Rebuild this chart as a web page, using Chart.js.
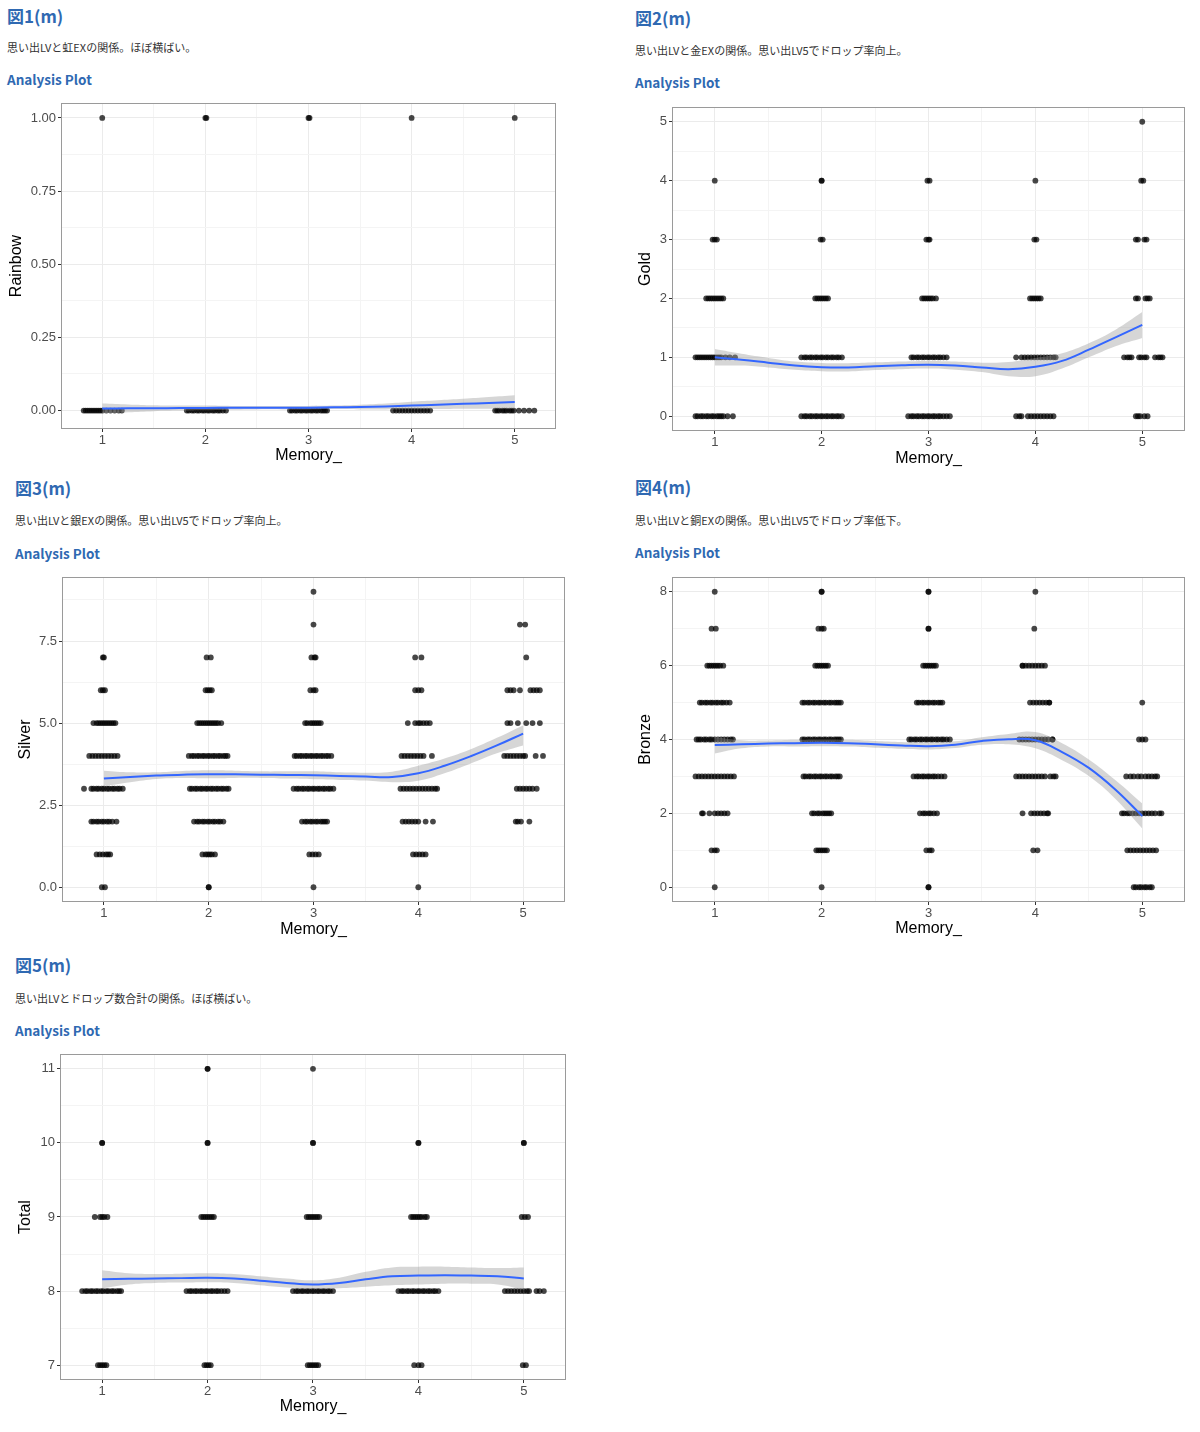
<!DOCTYPE html>
<html><head><meta charset="utf-8">
<script src="https://cdn.jsdelivr.net/npm/chart.js@4/dist/chart.umd.min.js"></script>
<style>
html,body{margin:0;padding:0;background:#fff;}
body{width:1200px;height:1432px;position:relative;overflow:hidden;font-family:"Noto Sans CJK JP","Noto Sans",sans-serif;}
.t{position:absolute;white-space:nowrap;}
.h1{font-size:17px;line-height:20px;font-weight:700;color:#2f69b2;}
.sub{font-size:11px;line-height:14px;color:#333;}
.ap{font-size:13.5px;line-height:16px;font-weight:700;color:#2f69b2;}
canvas{position:absolute;}
</style></head><body>
<div class="t h1" style="left:7px;top:6px">図1(m)</div>
<div class="t sub" style="left:7px;top:40px">思い出LVと虹EXの関係。ほぼ横ばい。</div>
<div class="t ap" style="left:7px;top:71px">Analysis Plot</div>
<div class="t h1" style="left:635px;top:8px">図2(m)</div>
<div class="t sub" style="left:635px;top:43px">思い出LVと金EXの関係。思い出LV5でドロップ率向上。</div>
<div class="t ap" style="left:635px;top:74px">Analysis Plot</div>
<div class="t h1" style="left:15px;top:478px">図3(m)</div>
<div class="t sub" style="left:15px;top:513px">思い出LVと銀EXの関係。思い出LV5でドロップ率向上。</div>
<div class="t ap" style="left:15px;top:545px">Analysis Plot</div>
<div class="t h1" style="left:635px;top:477px">図4(m)</div>
<div class="t sub" style="left:635px;top:513px">思い出LVと銅EXの関係。思い出LV5でドロップ率低下。</div>
<div class="t ap" style="left:635px;top:544px">Analysis Plot</div>
<div class="t h1" style="left:15px;top:955px">図5(m)</div>
<div class="t sub" style="left:15px;top:991px">思い出LVとドロップ数合計の関係。ほぼ横ばい。</div>
<div class="t ap" style="left:15px;top:1022px">Analysis Plot</div>
<canvas id="c1"></canvas><canvas id="c2"></canvas><canvas id="c3"></canvas><canvas id="c4"></canvas><canvas id="c5"></canvas>
<script>
// ---------- data ----------
const memoryLevels = [1,2,3,4,5];
const memoryTickLabels = ['1','2','3','4','5'];
const xAxisTitle = 'Memory_';
// x positions of the smoothing curve samples
const smoothX = [1,1.25,1.5,1.75,2,2.25,2.5,2.75,3,3.25,3.5,3.75,4,4.25,4.5,4.75,5];

// points: [memory level, value, horizontal jitter offsets in 1/100 units]
const rainbowPoints = [
 [1,0,[-18,-16,-14,-12,-10,-8,-6,-4,-2,0,4,8,12,16,19]],
 [2,0,[-18,-16,-13,-11,-8,-6,-3,-1,2,4,7,9,12,14,17,20]],
 [3,0,[-18,-16,-13,-11,-8,-6,-3,-1,2,4,7,9,12,14,16,18]],
 [4,0,[-18,-15,-12,-9,-6,-3,0,3,6,9,12,15,18]],
 [5,0,[-19,-17,-15,-12,-10,-8,-5,-3,-1,4,9,14,19]],
 [1,1,[0]],[2,1,[0,1]],[3,1,[0,1]],[4,1,[0]],[5,1,[0]]
];
const rainbowFit   = [.007,.0075,.008,.0085,.009,.0095,.010,.010,.010,.011,.012,.014,.017,.020,.023,.026,.029];
const rainbowUpper = [.024,.021,.018,.017,.017,.016,.016,.016,.016,.017,.020,.024,.030,.035,.040,.046,.052];
const rainbowLower = [-.010,-.006,-.002,0,.001,.003,.004,.004,.004,.005,.004,.004,.005,.005,.006,.006,.006];
const rainbowTicks = [0,0.25,0.5,0.75,1];
const rainbowTickLabels = ['0.00','0.25','0.50','0.75','1.00'];

const goldPoints = [
 [5,5,[0]],
 [1,4,[0]],[2,4,[0,0]],[3,4,[-1,1]],[4,4,[0]],[5,4,[-1,1]],
 [1,3,[-2,0,2]],[2,3,[-1,1]],[3,3,[-2,0,1]],[4,3,[-1,1]],[5,3,[-6,-4,2,4]],
 [1,2,[-8,-6,-4,-2,0,2,4,6,8]],[2,2,[-6,-4,-2,0,2,4,6]],[3,2,[-6,-4,-2,0,2,4,7]],[4,2,[-5,-3,-1,1,3,5]],[5,2,[-6,-4,3,5,7]],
 [1,1,[-18,-16,-14,-12,-10,-8,-6,-4,-2,0,2,4,6,10,14,19]],
 [2,1,[-19,-16,-14,-11,-9,-6,-4,-1,1,4,6,9,11,14,16,19]],
 [3,1,[-16,-14,-11,-9,-6,-4,-1,1,4,6,9,11,14,17]],
 [4,1,[-18,-13,-10,-7,-4,-1,2,5,8,11,14,17,19]],
 [5,1,[-17,-14,-12,-10,-3,-1,2,4,12,15,17,19]],
 [1,0,[-18,-16,-13,-11,-8,-6,-3,-1,2,4,6,8,12,17]],
 [2,0,[-19,-16,-14,-11,-9,-6,-4,-1,1,4,6,9,11,14,16,19]],
 [3,0,[-19,-16,-14,-11,-9,-6,-4,-1,1,4,6,9,11,14,17,20]],
 [4,0,[-18,-15,-13,-7,-4,-1,2,5,8,11,14,17]],
 [5,0,[-6,-4,-2,2,5]]
];
const goldFit   = [1.00,0.96,0.91,0.86,0.834,0.83,0.85,0.865,0.874,0.86,0.83,0.80,0.84,0.94,1.13,1.34,1.55];
const goldUpper = [1.14,1.06,0.99,0.93,0.905,0.90,0.915,0.93,0.94,0.93,0.91,0.92,0.99,1.07,1.24,1.47,1.77];
const goldLower = [0.86,0.86,0.83,0.79,0.765,0.76,0.785,0.80,0.81,0.79,0.75,0.68,0.68,0.81,1.00,1.19,1.33];
const goldTicks = [0,1,2,3,4,5];
const goldTickLabels = ['0','1','2','3','4','5'];

const silverPoints = [
 [3,9,[0]],
 [3,8,[0]],[5,8,[-3,2]],
 [1,7,[-1,0]],[2,7,[-2,2]],[3,7,[-2,1,2]],[4,7,[-3,3]],[5,7,[3]],
 [1,6,[-3,-1,1]],[2,6,[-3,-1,1,3]],[3,6,[-3,0,2]],[4,6,[-3,0,3]],[5,6,[-15,-12,-9,-3,7,10,13,16]],
 [1,5,[-10,-7,-5,-3,-1,1,3,5,7,9,11]],[2,5,[-11,-9,-7,-5,-3,-1,1,3,5,7,9,12]],[3,5,[-8,-6,-3,-1,1,3,5,7]],[4,5,[-10,-3,0,2,5,8,11]],[5,5,[-15,-12,-5,3,9,16]],
 [1,4,[-14,-11,-8,-5,-2,1,4,7,10,13]],[2,4,[-19,-16,-14,-11,-9,-6,-4,-1,1,4,6,9,11,14,16,18]],[3,4,[-18,-16,-13,-11,-8,-6,-3,-1,2,4,7,9,12,14,17]],[4,4,[-16,-13,-10,-7,-4,-1,2,5,13]],[5,4,[-18,-15,-12,-9,-6,-3,0,2,12,19]],
 [1,3,[-19,-12,-10,-7,-5,-2,0,3,5,8,10,13,15,18]],[2,3,[-18,-16,-13,-11,-8,-6,-3,-1,2,4,7,9,12,14,17,19]],[3,3,[-19,-16,-14,-11,-9,-6,-4,-1,1,4,6,9,11,14,16,19]],[4,3,[-17,-14,-11,-8,-5,-2,1,4,7,10,13,16,18]],[5,3,[-6,-3,0,3,6,9,13]],
 [1,2,[-12,-10,-7,-5,-2,0,3,5,8,12]],[2,2,[-14,-11,-9,-6,-4,-1,1,4,6,9,11,14]],[3,2,[-11,-8,-6,-3,-1,2,4,7,9,11,13]],[4,2,[-15,-12,-9,-6,-3,0,7,14]],[5,2,[-7,-5,-2,6]],
 [1,1,[-7,-4,-1,2,4,6]],[2,1,[-6,-3,-1,1,3,6]],[3,1,[-4,-1,2,5]],[4,1,[-5,-2,1,4,7]],
 [1,0,[-2,1]],[2,0,[0,0]],[3,0,[0]],[4,0,[0]]
];
const silverFit   = [3.31,3.36,3.40,3.43,3.44,3.44,3.43,3.42,3.41,3.39,3.37,3.36,3.47,3.70,3.99,4.32,4.68];
const silverUpper = [3.55,3.50,3.50,3.54,3.56,3.55,3.53,3.53,3.53,3.50,3.49,3.52,3.70,3.92,4.20,4.55,4.93];
const silverLower = [3.08,3.20,3.30,3.33,3.32,3.33,3.33,3.31,3.29,3.27,3.25,3.20,3.24,3.47,3.77,4.08,4.32];
const silverTicks = [0,2.5,5,7.5];
const silverTickLabels = ['0.0','2.5','5.0','7.5'];

const bronzePoints = [
 [1,8,[0]],[2,8,[0,0]],[3,8,[0,0]],[4,8,[0]],
 [1,7,[-3,1]],[2,7,[-3,0,2]],[3,7,[0,0]],[4,7,[-1]],
 [1,6,[-7,-5,-3,-1,1,3,5,8]],[2,6,[-6,-4,-2,0,2,4,6]],[3,6,[-5,-3,-1,1,3,5,7]],[4,6,[-12,-12,-9,-6,-3,0,3,6,9]],
 [1,5,[-14,-12,-9,-7,-4,-2,1,3,6,8,11,14]],[2,5,[-18,-16,-13,-11,-8,-6,-3,-1,2,4,7,9,12,14,16,18]],[3,5,[-11,-9,-6,-4,-1,1,4,6,9,11,13]],[4,5,[-5,-2,1,4,7,10,13,13]],[5,5,[0]],
 [1,4,[-17,-15,-13,-10,-8,-5,-3,0,3,6,9,12,15,17]],[2,4,[-18,-16,-13,-11,-8,-6,-3,-1,2,4,7,9,12,14,16,18]],[3,4,[-18,-16,-13,-11,-8,-6,-3,-1,2,4,7,9,12,14,17,20]],[4,4,[-15,-12,-9,-6,-3,0,3,6,9,12,16,16]],[5,4,[-3,0,3]],
 [1,3,[-18,-15,-12,-9,-6,-3,0,3,6,9,12,15,18]],[2,3,[-17,-15,-12,-10,-7,-5,-2,0,3,5,8,10,13,15,17]],[3,3,[-14,-11,-9,-6,-4,-1,1,4,6,9,12,15]],[4,3,[-18,-15,-12,-9,-6,-3,0,3,6,9,14,17,19]],[5,3,[-15,-11,-8,-4,-1,3,6,9,12,14]],
 [1,2,[-12,-11,-5,0,3,6,9,12]],[2,2,[-9,-7,-4,-2,1,3,5,7,9]],[3,2,[-8,-5,-3,0,2,5,8]],[4,2,[-12,-4,-1,2,5,8,11,12]],[5,2,[-19,-17,-14,-12,-9,-6,-3,0,3,6,9,12,16,18]],
 [1,1,[-3,0,2]],[2,1,[-5,-3,-1,1,3,5]],[3,1,[-2,1,3]],[4,1,[-2,2]],[5,1,[-14,-11,-8,-5,-2,1,4,7,10,13]],
 [1,0,[0]],[2,0,[0]],[3,0,[0,0]],[5,0,[-8,-6,-3,-1,2,4,7,9]]
];
const bronzeFit   = [3.85,3.87,3.89,3.90,3.91,3.90,3.87,3.84,3.82,3.86,3.96,4.01,3.98,3.66,3.23,2.64,1.93];
const bronzeUpper = [4.07,3.98,3.97,3.99,4.00,3.99,3.96,3.93,3.91,3.95,4.06,4.15,4.20,3.90,3.46,2.90,2.27];
const bronzeLower = [3.62,3.76,3.81,3.81,3.82,3.81,3.78,3.75,3.73,3.77,3.86,3.87,3.76,3.44,3.01,2.39,1.59];
const bronzeTicks = [0,2,4,6,8];
const bronzeTickLabels = ['0','2','4','6','8'];

const totalPoints = [
 [2,11,[0,0]],[3,11,[0]],
 [1,10,[0,0]],[2,10,[0,0]],[3,10,[0,0]],[4,10,[0,0]],[5,10,[0,0]],
 [1,9,[-7,-2,0,2,5]],[2,9,[-6,-4,-2,0,2,4,6]],[3,9,[-6,-4,-2,0,2,4,6]],[4,9,[-7,-5,-3,-1,1,3,6,8]],[5,9,[-2,1,4]],
 [1,8,[-19,-16,-14,-11,-9,-6,-4,-1,1,4,6,9,11,14,16,18]],[2,8,[-20,-17,-15,-12,-10,-7,-5,-2,0,3,5,8,10,13,16,19]],[3,8,[-19,-16,-14,-11,-9,-6,-4,-1,1,4,6,9,11,14,16,19]],[4,8,[-19,-16,-14,-11,-9,-6,-4,-1,1,4,6,9,11,14,16,19]],[5,8,[-18,-15,-12,-9,-6,-3,0,3,5,12,15,19]],
 [1,7,[-4,-2,0,2,4]],[2,7,[-3,-1,1,3]],[3,7,[-5,-3,-1,1,3,5]],[4,7,[-4,0,3]],[5,7,[-1,2]]
];
const totalFit   = [8.16,8.165,8.17,8.175,8.18,8.17,8.14,8.11,8.09,8.11,8.16,8.20,8.21,8.215,8.21,8.20,8.17];
const totalUpper = [8.28,8.24,8.23,8.235,8.24,8.23,8.20,8.17,8.145,8.18,8.26,8.32,8.33,8.33,8.32,8.31,8.32];
const totalLower = [8.04,8.09,8.11,8.115,8.12,8.11,8.08,8.05,8.035,8.04,8.06,8.08,8.09,8.10,8.10,8.09,8.02];
const totalTicks = [7,8,9,10,11];
const totalTickLabels = ['7','8','9','10','11'];

// ---------- layout (page pixels) ----------
const panels = [
 {id:'c1', title:'Rainbow', pts:rainbowPoints, fit:rainbowFit, up:rainbowUpper, lo:rainbowLower, ticks:rainbowTicks, labels:rainbowTickLabels,
  yMin:-0.063, yMax:1.051, box:{left:7, top:83, w:563, h:382, yW:54, xH:36, padT:20, padR:14}},
 {id:'c2', title:'Gold', pts:goldPoints, fit:goldFit, up:goldUpper, lo:goldLower, ticks:goldTicks, labels:goldTickLabels,
  yMin:-0.25, yMax:5.25, box:{left:636, top:87, w:559, h:381, yW:36, xH:37, padT:20, padR:10}},
 {id:'c3', title:'Silver', pts:silverPoints, fit:silverFit, up:silverUpper, lo:silverLower, ticks:silverTicks, labels:silverTickLabels,
  yMin:-0.45, yMax:9.45, box:{left:16, top:557, w:559, h:382, yW:46, xH:37, padT:20, padR:10}},
 {id:'c4', title:'Bronze', pts:bronzePoints, fit:bronzeFit, up:bronzeUpper, lo:bronzeLower, ticks:bronzeTicks, labels:bronzeTickLabels,
  yMin:-0.4, yMax:8.4, box:{left:636, top:557, w:559, h:381, yW:36, xH:36, padT:20, padR:10}},
 {id:'c5', title:'Total', pts:totalPoints, fit:totalFit, up:totalUpper, lo:totalLower, ticks:totalTicks, labels:totalTickLabels,
  yMin:6.8, yMax:11.2, box:{left:16, top:1034, w:560, h:382, yW:44, xH:36, padT:20, padR:10}}
];
const X_MIN = 0.6, X_MAX = 5.4;

function withMinors(majors, lo, hi){
  const step = majors[1]-majors[0];
  const s = new Set(majors);
  majors.forEach(t=>{ [t-step/2, t+step/2].forEach(m=>{ if(m>=lo && m<=hi) s.add(+m.toFixed(6)); }); });
  return Array.from(s).sort((a,b)=>a-b);
}

const framePlugin = {
  id:'frame',
  afterDatasetsDraw(chart){
    const {ctx, chartArea:a} = chart;
    ctx.save();
    ctx.strokeStyle = '#9a9a9a'; ctx.lineWidth = 1;
    ctx.strokeRect(Math.round(a.left)+0.5, Math.round(a.top)+0.5, Math.round(a.right-a.left)-1, Math.round(a.bottom-a.top)-1);
    ctx.restore();
  }
};

const tickFont = {family:'"Liberation Sans", Arial, sans-serif', size:13};
const titleFont = {family:'"Liberation Sans", Arial, sans-serif', size:16, lineHeight:1.2};

panels.forEach(p=>{
  const cv = document.getElementById(p.id);
  const b = p.box;
  cv.width = b.w; cv.height = b.h;
  cv.style.left = b.left+'px'; cv.style.top = b.top+'px';
  cv.style.width = b.w+'px'; cv.style.height = b.h+'px';

  const pts = [];
  p.pts.forEach(([lvl,val,offs])=>offs.forEach(o=>pts.push({x:lvl+o/100, y:val})));
  const fitData = smoothX.map((x,i)=>({x, y:p.fit[i]}));
  const upData = smoothX.map((x,i)=>({x, y:p.up[i]}));
  const loData = smoothX.map((x,i)=>({x, y:p.lo[i]}));

  const xAll = withMinors(memoryLevels, X_MIN, X_MAX);
  const yAll = withMinors(p.ticks, p.yMin, p.yMax);
  const isMajorX = v => memoryLevels.indexOf(v) >= 0;
  const isMajorY = v => p.ticks.indexOf(v) >= 0;

  new Chart(cv, {
    type:'line',
    data:{datasets:[
      {data:fitData, borderColor:'#3366FF', borderWidth:2, pointRadius:0, tension:0.4, fill:false, order:0},
      {data:upData, borderWidth:0, borderColor:'rgba(0,0,0,0)', pointRadius:0, tension:0.4, fill:'+1', backgroundColor:'rgba(153,153,153,0.4)', order:1},
      {data:loData, borderWidth:0, borderColor:'rgba(0,0,0,0)', pointRadius:0, tension:0.4, fill:false, order:2},
      {data:pts, showLine:false, pointRadius:2.9, pointBorderWidth:0, pointBackgroundColor:'rgba(0,0,0,0.72)', pointHoverRadius:2.9, order:3}
    ]},
    options:{
      responsive:false, animation:false, devicePixelRatio:1,
      layout:{padding:{left:0, top:b.padT, right:b.padR, bottom:0}},
      plugins:{legend:{display:false}, tooltip:{enabled:false}},
      events:[],
      scales:{
        x:{type:'linear', min:X_MIN, max:X_MAX,
          afterBuildTicks:s=>{ s.ticks = xAll.map(v=>({value:v})); },
          afterFit:s=>{ s.height = b.xH; },
          ticks:{autoSkip:false, maxRotation:0, padding:1, color:'#4d4d4d', font:tickFont,
            callback:v=>{ const i = memoryLevels.indexOf(v); return i>=0 ? memoryTickLabels[i] : ''; }},
          grid:{drawTicks:true, tickLength:3,
            color:c=> isMajorX(c.tick.value) ? '#EBEBEB' : '#F4F4F4',
            tickColor:c=> isMajorX(c.tick.value) ? '#333333' : 'rgba(0,0,0,0)'},
          border:{display:false},
          title:{display:true, text:xAxisTitle, color:'#000', font:titleFont, padding:0}
        },
        y:{type:'linear', min:p.yMin, max:p.yMax,
          afterBuildTicks:s=>{ s.ticks = yAll.map(v=>({value:v})); },
          afterFit:s=>{ s.width = b.yW; },
          ticks:{autoSkip:false, padding:2, color:'#4d4d4d', font:tickFont,
            callback:v=>{ const i = p.ticks.indexOf(v); return i>=0 ? p.labels[i] : ''; }},
          grid:{drawTicks:true, tickLength:3,
            color:c=> isMajorY(c.tick.value) ? '#EBEBEB' : '#F4F4F4',
            tickColor:c=> isMajorY(c.tick.value) ? '#333333' : 'rgba(0,0,0,0)'},
          border:{display:false},
          title:{display:true, text:p.title, color:'#000', font:titleFont, padding:0}
        }
      }
    },
    plugins:[framePlugin]
  });
});
</script>
</body></html>
